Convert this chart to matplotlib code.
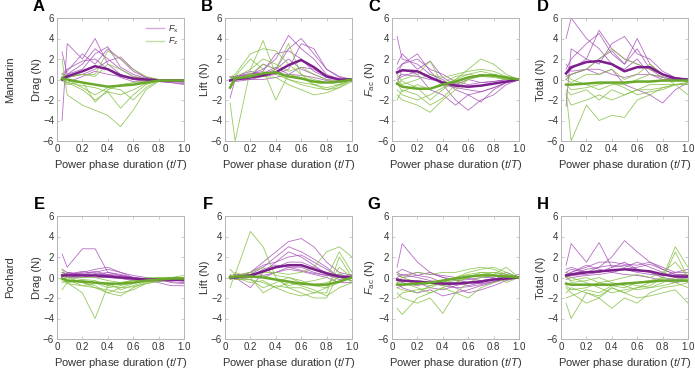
import matplotlib
matplotlib.use("Agg")
import matplotlib.pyplot as plt
from matplotlib.lines import Line2D

plt.rcParams['font.family'] = ['Liberation Sans', 'DejaVu Sans']
plt.rcParams['mathtext.fontset'] = 'custom'
plt.rcParams['mathtext.rm'] = 'Liberation Sans'
plt.rcParams['mathtext.it'] = 'Liberation Sans:italic'

# ---------------- data ----------------
t = [0.04, 0.08, 0.2, 0.3, 0.4, 0.5, 0.6, 0.7, 0.8, 0.9, 1.0]

# Panel A: Mandarin drag
A_x_mean = [0.0, 0.3, 0.8, 1.3, 1.0, 0.4, 0.1, 0.0, -0.1, -0.1, -0.1]
A_x_lines = [
    [2.7, 0.5, 1.5, 3.0, 2.0, 1.0, 0.3, 0.0, -0.1, -0.2, -0.3],
    [-4.0, 3.5, 2.0, 4.0, 1.5, 0.5, 0.0, -0.1, -0.2, -0.3, -0.5],
    [0.2, 0.8, 2.5, 1.5, 3.0, 2.0, 0.8, 0.2, 0.0, -0.1, -0.2],
    [0.0, 0.5, 1.0, 2.5, 3.2, 1.2, 0.5, 0.1, 0.0, 0.0, -0.1],
    [0.3, 0.2, 0.5, 1.0, 1.8, 2.2, 1.0, 0.2, 0.0, 0.0, 0.0],
    [0.0, -0.3, 0.3, 0.8, 0.5, 0.3, 0.0, -0.2, -0.2, -0.3, -0.4],
    [0.5, 1.0, 1.8, 2.0, 1.0, 0.2, -0.2, -0.3, -0.2, -0.1, -0.2],
]
A_z_mean = [0.1, 0.0, -0.3, -0.5, -0.7, -0.6, -0.5, -0.3, -0.1, -0.1, -0.1]
A_z_lines = [
    [2.0, -1.5, -2.5, -3.0, -3.5, -4.6, -3.0, -1.0, -0.2, -0.1, -0.1],
    [0.5, 0.3, 0.5, 0.5, 2.8, 2.0, 1.0, 0.3, 0.0, 0.0, 0.0],
    [0.0, -0.3, -1.0, -2.0, -1.2, -2.8, -1.5, -0.5, -0.1, 0.0, 0.0],
    [0.3, 0.0, -0.8, -1.5, -0.8, -1.0, -2.0, -0.8, -0.1, -0.1, 0.0],
    [-0.1, -0.5, -0.2, -2.2, -1.0, -0.5, -0.3, -0.1, 0.0, 0.0, 0.0],
    [0.6, 0.2, 0.5, 0.3, 1.5, 1.0, 0.3, 0.1, 0.0, -0.1, -0.2],
    [0.0, -0.3, -0.6, -0.8, -1.2, -1.5, -1.0, -0.4, -0.1, 0.0, 0.0],
]

# Panel B: Mandarin lift
B_x_mean = [-0.1, 0.0, 0.2, 0.4, 0.7, 1.4, 1.9, 1.2, 0.3, 0.0, 0.0]
B_x_lines = [
    [0.0, 0.2, 0.5, 1.0, 2.0, 4.3, 3.0, 2.0, 0.5, 0.0, 0.1],
    [-1.8, 0.0, 0.3, 1.5, 1.0, 3.0, 4.0, 2.5, 1.0, 0.2, 0.0],
    [0.3, 0.3, 0.5, 0.8, 2.5, 2.8, 2.0, 0.8, 0.2, 0.0, -0.2],
    [0.0, -0.2, 0.0, 0.3, 0.5, 1.0, 3.5, 3.0, 1.0, 0.3, 0.0],
    [0.0, 0.3, 0.8, 0.5, 1.0, 2.0, 1.0, 0.5, 0.0, -0.1, 0.0],
    [0.0, 0.0, 0.0, 0.0, 0.2, 0.5, 1.2, 1.0, 0.3, 0.0, 0.0],
    [0.2, 0.3, 0.6, 0.6, 1.2, 0.5, 0.4, 0.2, -0.1, -0.3, 0.0],
]
B_z_mean = [-0.8, 0.1, 0.3, 0.6, 0.7, 0.3, 0.1, -0.2, -0.3, -0.2, 0.0]
B_z_lines = [
    [-2.3, -6.0, 1.0, 3.8, 0.5, 0.0, -0.3, -0.5, -0.3, -0.2, 0.0],
    [0.0, 0.3, 2.0, 1.0, -2.0, 0.5, 0.2, -0.5, -0.8, -0.5, 0.0],
    [0.2, 0.5, 2.5, 3.0, 2.8, 1.5, 0.5, 0.0, -0.3, -0.5, 0.0],
    [0.0, 0.0, 0.5, 1.5, 1.0, 3.5, 0.5, -0.5, -1.0, -0.8, 0.0],
    [-0.5, 0.0, 0.2, 0.3, 0.2, -0.5, -1.0, -1.5, -1.3, -0.8, -0.2],
    [0.0, 0.2, 1.0, 2.0, 1.5, 0.8, 1.2, 0.5, 0.0, -0.3, 0.0],
    [0.3, 0.0, 0.5, 0.5, 0.8, 0.0, -0.5, -0.8, -1.0, -0.6, 0.0],
]

# Panel C: Mandarin F_ac
C_x_mean = [0.7, 0.9, 0.8, 0.2, -0.3, -0.6, -0.7, -0.6, -0.4, -0.2, 0.0]
C_x_lines = [
    [4.2, 2.0, 1.5, 0.5, 0.0, -1.0, -1.5, -1.2, -0.8, -0.3, 0.0],
    [1.0, 1.5, 2.5, 0.8, -0.5, -2.0, -3.0, -2.0, -1.5, -0.5, 0.0],
    [-0.5, 1.0, 0.5, -1.0, -1.5, -2.5, -1.5, -2.2, -1.0, -0.3, 0.0],
    [0.5, 1.5, 2.0, 1.0, 0.5, -0.2, -0.5, -0.3, -0.2, 0.0, 0.1],
    [0.0, 0.3, 0.8, 0.3, -0.5, -0.8, -1.0, -1.2, -0.8, -0.3, 0.0],
    [1.5, 2.5, 1.0, 1.8, 0.2, -0.5, 0.0, -0.3, -0.2, 0.0, 0.0],
    [0.2, 0.5, 0.3, 0.0, -0.2, -0.4, -0.8, -0.6, -0.4, -0.2, 0.0],
]
C_z_mean = [-0.4, -0.7, -0.9, -0.9, -0.5, -0.2, 0.2, 0.4, 0.4, 0.2, 0.0]
C_z_lines = [
    [-1.5, -2.0, -2.5, -3.2, -2.0, -1.0, 0.0, 0.5, 0.3, 0.0, 0.0],
    [-0.5, 0.0, 0.5, 1.8, -0.5, 0.0, 1.0, 2.0, 1.5, 0.5, 0.0],
    [-2.0, -1.0, -1.5, -2.5, -1.8, -0.5, 0.0, 0.3, 0.5, 0.2, 0.0],
    [0.0, -0.5, 0.0, 0.5, 0.2, 0.5, 0.8, 1.0, 0.8, 0.3, 0.0],
    [-1.0, -1.5, -2.0, -1.5, -0.8, -0.3, 0.2, 0.5, 0.3, 0.1, 0.0],
    [0.5, -0.2, -0.8, -2.0, -1.0, 0.0, 0.5, 0.3, 0.2, 0.0, 0.0],
    [-0.3, -1.2, -0.5, -1.0, -0.3, 0.3, 0.5, 0.8, 0.5, 0.2, 0.0],
]

# Panel D: Mandarin total
D_x_mean = [0.6, 1.2, 1.7, 1.8, 1.5, 0.8, 1.2, 1.2, 0.5, 0.1, 0.0]
D_x_lines = [
    [4.0, 6.0, 4.0, 3.0, 1.5, 1.0, 2.0, 0.5, 0.0, 0.0, 0.0],
    [-2.6, 3.0, 2.0, 4.8, 3.0, 2.0, 1.5, 1.0, 0.5, 0.0, 0.0],
    [1.0, 2.0, 3.5, 4.5, 2.5, 1.5, 4.0, 1.5, 0.5, 0.2, 0.0],
    [0.5, 1.0, 2.0, 1.5, 3.5, 4.2, 2.5, 2.0, 0.8, 0.2, 0.0],
    [0.0, 0.5, 1.0, 0.5, 1.0, -0.5, -1.0, -1.5, -2.3, -1.0, -0.3],
    [0.3, 0.5, 1.0, 2.0, 2.8, 1.5, 3.0, 1.0, 0.2, 0.0, 0.0],
    [1.5, 0.8, 1.0, 1.0, 0.5, 0.2, 0.5, 0.5, 0.2, 0.0, 0.0],
]
D_z_mean = [-0.5, -0.5, -0.4, -0.3, -0.3, -0.3, -0.2, -0.2, -0.1, -0.1, -0.1]
D_z_lines = [
    [-1.2, -6.0, -2.5, -4.0, -3.5, -3.7, -2.0, -1.5, -0.8, -0.5, -0.5],
    [0.0, 0.5, 1.0, 2.0, 3.0, 2.0, 1.5, 1.0, 0.5, 0.0, -0.2],
    [-1.0, -1.5, -1.0, -2.0, -1.0, -1.5, -1.0, -0.5, -0.5, -0.5, -0.5],
    [0.5, 0.0, -0.5, -1.0, -0.5, -0.5, 0.0, 0.5, 0.3, -0.5, -1.5],
    [-1.5, -2.5, -2.0, -1.5, -2.0, -1.5, -1.0, -1.0, -0.8, -0.5, -0.3],
    [0.0, -0.3, 0.5, 0.5, 1.0, 0.0, 0.5, 1.5, 0.5, 0.0, 0.0],
    [-0.5, -1.0, -0.8, -0.5, -0.3, -0.8, -1.5, -1.2, -1.0, -0.5, -0.3],
]

# Panel E: Pochard drag
E_x_mean = [0.2, 0.2, 0.2, 0.2, 0.1, 0.0, -0.1, -0.2, -0.2, -0.2, -0.2]
E_x_lines = [
    [2.3, 1.0, 2.8, 2.8, 0.5, 0.2, 0.0, -0.2, -0.3, -0.3, -0.3],
    [0.5, 0.3, 0.5, 0.8, 1.0, 0.5, 0.0, -0.2, -0.5, -0.8, -0.8],
    [0.0, 0.5, 0.3, 0.5, 0.8, 0.5, 0.2, 0.0, -0.2, -0.3, -0.3],
    [0.8, 0.5, 0.3, 0.2, 0.3, 0.2, 0.0, -0.3, -0.3, -0.4, -0.5],
    [-0.2, 0.0, 0.0, 0.3, 0.5, 0.3, 0.0, -0.1, -0.2, -0.5, -0.6],
    [0.3, 0.2, 0.4, 0.6, 0.3, 0.0, -0.2, -0.3, -0.4, -0.2, -0.2],
    [0.1, 0.4, 0.2, 0.0, 0.0, -0.1, -0.3, -0.4, -0.3, -0.2, -0.4],
    [0.5, 0.3, 0.6, 0.4, 0.2, 0.1, -0.1, -0.2, -0.3, -0.3, -0.2],
]
E_z_mean = [-0.1, -0.3, -0.4, -0.5, -0.6, -0.6, -0.5, -0.3, -0.2, -0.1, -0.1]
E_z_lines = [
    [-1.2, -0.5, -1.5, -4.0, -0.8, -0.5, -0.3, -0.2, -0.1, 0.0, 0.0],
    [0.5, 0.0, -0.5, -1.0, -1.5, -1.8, -1.0, -0.5, -0.2, 0.0, 0.0],
    [0.2, -0.2, -0.8, -1.0, -1.2, -1.5, -1.2, -0.6, -0.3, -0.1, 0.0],
    [0.0, -0.5, -0.3, -0.5, -1.0, -0.8, -0.5, -0.3, 0.0, 0.0, 0.0],
    [0.8, 0.2, 0.0, 0.0, -0.3, -0.5, -0.3, 0.0, 0.0, -0.2, 0.0],
    [-0.3, -0.6, -0.8, -0.6, -0.5, -1.2, -0.8, -0.4, -0.2, -0.1, -0.2],
    [0.3, 0.0, -0.2, -0.3, -0.8, -1.0, -0.9, -0.6, -0.4, -0.2, -0.1],
    [-0.5, -0.3, -0.5, -0.8, -1.5, -1.0, -0.6, -0.3, -0.2, 0.0, 0.2],
]

# Panel F: Pochard lift
F_x_mean = [0.0, 0.0, 0.2, 0.6, 1.0, 1.2, 1.2, 0.8, 0.4, 0.1, 0.0]
F_x_lines = [
    [0.0, 0.0, 0.5, 1.5, 2.5, 3.5, 3.8, 3.0, 1.5, 0.5, 0.2],
    [0.2, 0.3, 0.3, 1.0, 2.0, 3.0, 2.5, 1.8, 1.0, 0.0, -0.3],
    [-0.2, 0.0, -1.0, 0.5, 1.5, 2.0, 2.2, 1.5, 0.8, 0.0, 0.0],
    [0.0, 0.1, 0.2, 0.5, 1.0, 1.5, 1.5, 1.0, 0.5, 0.0, 0.3],
    [0.1, -0.2, 0.0, 0.2, 0.5, 0.8, 0.6, 0.3, 0.0, -0.5, -0.5],
    [0.0, 0.2, 0.5, 1.2, 1.5, 2.5, 2.0, 1.2, 0.3, -0.2, 0.0],
    [-0.1, 0.0, 0.3, 0.0, 0.5, 1.0, 1.0, 0.5, 0.2, 0.0, 0.2],
    [0.0, 0.1, 0.0, 0.8, 1.2, 1.0, 0.7, 0.4, 0.2, 0.3, 0.0],
]
F_z_mean = [0.0, 0.1, 0.1, 0.0, -0.2, -0.4, -0.6, -0.7, -0.7, -0.4, 0.0]
F_z_lines = [
    [0.8, 0.3, 4.5, 3.0, 0.0, -1.0, -1.0, -1.5, -1.5, 2.0, 0.0],
    [-1.0, 0.5, 0.0, -1.5, -0.8, -1.0, -1.5, -2.0, -2.0, 0.5, -0.5],
    [0.0, 0.0, 0.5, 1.0, 0.2, 0.0, -0.5, -0.8, -1.0, 1.0, 0.0],
    [0.2, 0.0, -0.5, -0.3, -1.0, -0.5, -0.8, -1.2, -1.8, -1.0, -0.5],
    [0.0, 0.2, 0.3, 0.5, 0.5, 0.3, 0.5, 1.0, 2.5, 3.0, 2.0],
    [0.3, -0.2, -0.2, -0.5, -1.0, -1.5, -1.8, -1.5, -1.0, -0.5, 0.0],
    [0.0, 0.1, 0.5, 0.2, -0.2, -0.8, -0.5, -0.3, 0.0, 2.5, 0.5],
    [-0.2, 0.0, -0.2, -1.0, -0.5, 0.0, -0.3, -0.8, -0.5, 0.0, -0.3],
]

# Panel G: Pochard F_ac
G_x_mean = [-0.2, -0.3, -0.4, -0.5, -0.6, -0.6, -0.5, -0.4, -0.2, -0.1, 0.0]
G_x_lines = [
    [1.0, 3.3, 1.5, 0.5, 0.0, -0.3, -0.2, 0.0, 0.0, 0.5, 0.0],
    [0.5, 0.8, 0.2, 0.0, -0.5, -1.0, -1.5, -1.2, -0.8, -0.3, 0.0],
    [-0.5, -1.0, -1.5, -1.2, -1.8, -1.5, -1.2, -0.8, -0.5, 0.0, 0.0],
    [0.0, 0.3, 0.0, -0.3, -0.5, -0.5, -0.8, -0.5, -0.2, 0.2, 0.0],
    [-1.0, -0.8, -0.5, -1.0, -1.2, -0.8, -0.5, -0.3, -0.1, 0.0, 0.0],
    [0.3, 0.0, 0.2, 0.5, 0.0, -0.2, -0.5, -0.6, -0.4, 0.0, 0.3],
    [-0.3, -0.5, -0.8, -0.5, -0.8, -1.0, -0.9, -0.7, -0.4, -0.2, 0.0],
    [0.5, 0.2, 0.5, 0.3, 0.2, 0.0, -0.1, -0.3, -0.2, 0.0, 0.0],
]
G_z_mean = [-0.7, -0.7, -0.6, -0.5, -0.3, -0.1, 0.1, 0.2, 0.2, 0.1, 0.0]
G_z_lines = [
    [-3.0, -3.6, -2.0, -1.5, -1.0, -0.5, 0.0, 0.3, 0.5, 0.3, 0.0],
    [-1.5, -2.0, -2.5, -2.0, -3.5, -1.5, -0.5, 0.0, 0.2, 0.0, 0.0],
    [0.0, -0.5, -1.0, -1.5, -1.0, -1.5, -2.0, -1.0, -0.5, -0.2, 0.0],
    [-0.5, 0.0, 0.5, 0.3, 0.5, 0.5, 0.8, 1.0, 0.8, 0.3, 0.0],
    [-2.0, -1.5, -1.2, -1.0, -0.5, 0.0, 0.5, 0.8, 1.0, 0.5, 0.0],
    [0.5, 0.0, -0.5, -0.8, -0.3, 0.0, 0.3, 0.5, 0.5, 0.3, 0.0],
    [-1.0, -1.2, -1.5, -0.8, -0.5, -0.3, 0.0, 0.2, 0.3, -0.5, 0.0],
    [-0.3, -0.8, -0.3, -0.5, -0.8, -0.5, 0.0, 0.5, 0.3, 1.0, 0.0],
]

# Panel H: Pochard total
H_x_mean = [0.2, 0.3, 0.5, 0.6, 0.7, 0.8, 0.7, 0.6, 0.3, 0.1, 0.1]
H_x_lines = [
    [1.2, 3.3, 1.5, 3.4, 1.0, 1.5, 0.8, 0.5, 0.3, 0.2, 0.0],
    [0.5, 0.3, 0.8, 1.0, 2.0, 3.6, 2.5, 1.5, 0.8, 0.3, 0.3],
    [0.0, 0.5, 1.0, 1.5, 1.5, 1.3, 1.2, 1.5, 1.0, 0.5, 0.5],
    [0.5, 0.8, 0.5, 1.0, 1.2, 1.0, 1.5, 1.0, 0.5, 0.0, 0.0],
    [-0.2, 0.0, 0.2, 0.3, 0.5, 0.3, 0.2, 0.0, -0.3, -0.5, -0.3],
    [0.3, 0.5, 1.2, 0.8, 0.5, 0.8, 1.0, 1.3, 0.8, 0.3, 0.2],
    [0.0, 0.2, 0.3, 0.5, 0.8, 0.8, 0.5, 0.3, 0.2, 0.5, 0.8],
    [0.8, 1.0, 0.5, 0.5, 1.0, 1.2, 0.8, 0.5, 0.0, -0.2, 0.0],
]
H_z_mean = [-0.6, -0.7, -0.7, -0.7, -0.7, -0.6, -0.5, -0.4, -0.3, -0.3, -0.3]
H_z_lines = [
    [-2.5, -4.0, -1.5, -2.0, -1.0, -1.5, -1.0, -0.5, -0.2, 2.5, 0.0],
    [-1.0, -1.5, -2.5, -2.0, -3.0, -2.0, -2.5, -1.5, -1.0, -0.8, -0.5],
    [0.5, 0.0, -0.5, -1.0, -1.5, -1.2, -1.0, -0.8, 0.0, 3.0, 1.0],
    [-1.5, -1.0, -1.5, -1.8, -1.0, -1.5, -2.0, -1.8, -1.5, -1.2, -2.5],
    [0.0, -0.3, 0.0, -0.5, -0.3, 0.0, 0.3, 0.0, 0.5, 1.5, 0.0],
    [-0.8, -1.2, -1.0, -0.5, -0.8, -1.0, -0.5, -0.3, 0.0, -0.5, -1.0],
    [-2.0, -1.8, -1.2, -1.5, -0.8, -0.5, -0.8, -1.0, -0.5, 0.0, -0.5],
    [0.3, -0.5, -0.3, 0.0, -0.5, -0.8, -1.2, -1.0, -0.8, -0.5, 0.0],
]

panel_letters = ["A", "B", "C", "D", "E", "F", "G", "H"]
ylabels = ["Drag (N)", "Lift (N)", r"$\it{F}_{\rm ac}$ (N)", "Total (N)"] * 2
row_names = ["Mandarin", "Pochard"]
xticks = [0, 0.2, 0.4, 0.6, 0.8, 1.0]
xticklabels = ["0", "0.2", "0.4", "0.6", "0.8", "1.0"]
yticks = [-6, -4, -2, 0, 2, 4, 6]
yticklabels = ["\u22126", "\u22124", "\u22122", "0", "2", "4", "6"]

panels = [
    (A_x_lines, A_x_mean, A_z_lines, A_z_mean),
    (B_x_lines, B_x_mean, B_z_lines, B_z_mean),
    (C_x_lines, C_x_mean, C_z_lines, C_z_mean),
    (D_x_lines, D_x_mean, D_z_lines, D_z_mean),
    (E_x_lines, E_x_mean, E_z_lines, E_z_mean),
    (F_x_lines, F_x_mean, F_z_lines, F_z_mean),
    (G_x_lines, G_x_mean, G_z_lines, G_z_mean),
    (H_x_lines, H_x_mean, H_z_lines, H_z_mean),
]

# ---------------- styling ----------------
purple_thin = "#a349b5"
purple_bold = "#7b1f8c"
green_thin = "#84c043"
green_bold = "#6aa92c"
spine_col = "#b5b5b5"
text_col = "#333333"

W, H = 695, 373
fig = plt.figure(figsize=(W / 100, H / 100), dpi=100)
lefts = [57 / W, 225 / W, 392 / W, 561 / W]
bottoms = [(H - 141) / H, (H - 339) / H]
w, h = 127 / W, 123 / H

for i, (xl, xm, zl, zm) in enumerate(panels):
    r, c = divmod(i, 4)
    ax = fig.add_axes([lefts[c], bottoms[r], w, h])
    for y in xl:
        ax.plot(t, y, color=purple_thin, lw=0.6, alpha=0.8)
    for y in zl:
        ax.plot(t, y, color=green_thin, lw=0.6, alpha=0.85)
    ax.plot(t, xm, color=purple_bold, lw=1.8)
    ax.plot(t, zm, color=green_bold, lw=1.8)
    ax.set_xlim(0, 1)
    ax.set_ylim(-6, 6)
    ax.set_xticks(xticks)
    ax.set_xticklabels(xticklabels)
    ax.set_yticks(yticks)
    ax.set_yticklabels(yticklabels)
    ax.tick_params(direction="in", length=2, width=0.5, color=spine_col,
                   labelsize=7, labelcolor=text_col, top=True, right=True, pad=2)
    for s in ax.spines.values():
        s.set_color(spine_col)
        s.set_linewidth(0.7)
    ax.set_xlabel(r"Power phase duration ($\it{t}$/$\it{T}$)", fontsize=8,
                  color=text_col, labelpad=3)
    ax.set_ylabel(ylabels[i], fontsize=8, color=text_col, labelpad=1)
    bb = ax.get_position()
    fig.text(bb.x0 - 12 / W, bb.y1 + 4 / H, panel_letters[i], fontsize=12,
             fontweight="bold", ha="right", va="bottom", color="black")
    if i == 0:
        handles = [Line2D([], [], color="#d6a8de", lw=1),
                   Line2D([], [], color="#bfdf9f", lw=1)]
        ax.legend(handles, [r"$\it{F}_{\rm x}$", r"$\it{F}_{\rm z}$"],
                  loc="upper right", frameon=False, fontsize=6.5,
                  handlelength=2.0, handletextpad=0.4, labelspacing=0.1,
                  borderaxespad=0.2, labelcolor=text_col)

for r, name in enumerate(row_names):
    fig.text(5 / W, bottoms[r] + h / 2, name, rotation=90, fontsize=8,
             color=text_col, ha="left", va="center")

fig.savefig("out.png", dpi=100)
